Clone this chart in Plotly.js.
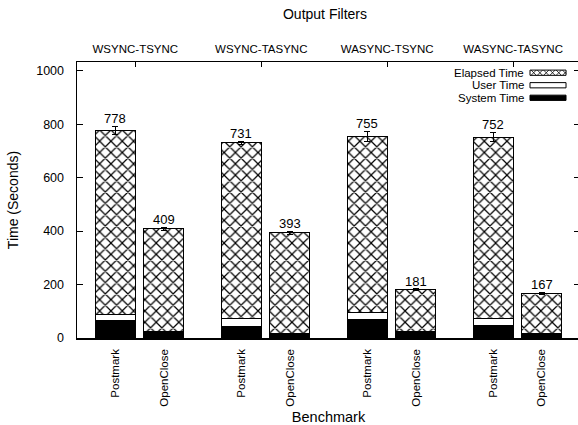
<!DOCTYPE html>
<html>
<head>
<meta charset="utf-8">
<script src="https://cdn.plot.ly/plotly-3.0.1.min.js"></script>
<style>
html,body{margin:0;padding:0;overflow:hidden;background:#fff;}
#chart{width:590px;height:425px;}
</style>
</head>
<body>
<div id="chart"></div>
<script>
// ---- data ----
const groups = ["WSYNC-TSYNC", "WSYNC-TASYNC", "WASYNC-TSYNC", "WASYNC-TASYNC"];
const benchmarks = ["Postmark", "OpenClose"];
// per group: [Postmark, OpenClose]
const elapsedTime = [[778, 409], [731, 393], [755, 181], [752, 167]];
const elapsedErr  = [[15, 6], [6, 6], [18, 4], [18, 4]];
const userTime    = [[25, 3], [29, 3], [24, 3], [28, 3]];
const systemTime  = [[64, 20], [44, 14], [70, 20], [45, 14]];

// ---- layout helpers (positions only) ----
const offsets = [0, 0.386];
const topTickOffset = 0.159;
const barWidth = 0.317;

const xs = [], sys = [], usr = [], rest = [], tot = [], err = [], tickText = [];
groups.forEach((g, gi) => {
  benchmarks.forEach((b, bi) => {
    xs.push(gi + offsets[bi]);
    sys.push(systemTime[gi][bi]);
    usr.push(userTime[gi][bi]);
    rest.push(elapsedTime[gi][bi] - systemTime[gi][bi] - userTime[gi][bi]);
    tot.push(elapsedTime[gi][bi]);
    err.push(elapsedErr[gi][bi]);
    tickText.push(b);
  });
});
const groupTicks = groups.map((g, gi) => gi + topTickOffset);

const FONT = "Liberation Sans, Arial, sans-serif";
const line = {color: "#000", width: 1};

const traces = [
  {type: "bar", name: "System Time", x: xs, y: sys, width: barWidth,
   marker: {color: "#000", line: line}, showlegend: false, hoverinfo: "skip"},
  {type: "bar", name: "User Time", x: xs, y: usr, width: barWidth,
   marker: {color: "#fff", line: line}, showlegend: false, hoverinfo: "skip"},
  {type: "bar", name: "Elapsed Time", x: xs, y: rest, width: barWidth,
   marker: {color: "#fff", line: line,
     pattern: {shape: "x", size: 8, solidity: 0.28, fgcolor: "#000", bgcolor: "#fff", fillmode: "replace"}},
   error_y: {type: "data", array: err, visible: true, color: "#000", thickness: 1, width: 3},
   showlegend: false, hoverinfo: "skip"},
  // invisible trace to activate the top axis
  {type: "scatter", x: groupTicks, y: groupTicks.map(() => 0), xaxis: "x2", mode: "markers",
   marker: {opacity: 0}, showlegend: false, hoverinfo: "skip"}
];

const annotations = xs.map((x, i) => ({
  x: x, y: tot[i] + err[i], xref: "x", yref: "y", text: String(tot[i]),
  showarrow: false, yanchor: "bottom", xanchor: "center", yshift: -2,
  font: {family: FONT, size: 13, color: "#000"}
}));

// custom legend (text, then swatch on its right)
const legendRows = ["Elapsed Time", "User Time", "System Time"];
const legY = [0.9612, 0.9158, 0.8704];
const legTextX = 0.8907, swX0 = 0.9006, swX1 = 0.9722, swH = 0.0095;
const shapes = [];
legendRows.forEach((t, i) => {
  annotations.push({x: legTextX, y: legY[i], xref: "paper", yref: "paper", text: t,
    showarrow: false, xanchor: "right", yanchor: "middle", borderpad: 0,
    font: {family: FONT, size: 11.5, color: "#000"}});
  shapes.push({type: "rect", xref: "paper", yref: "paper",
    x0: swX0, x1: swX1, y0: legY[i] - swH, y1: legY[i] + swH,
    fillcolor: i === 2 ? "#000" : "#fff", line: {color: "#000", width: 1}});
});
// hatch lines in the elapsed swatch
(function () {
  const y0 = legY[0] - swH, y1 = legY[0] + swH;
  const dx = (y1 - y0) * 275.4 / 503;
  let p = "";
  for (let x = swX0 - dx; x < swX1; x += dx * 1.2) {
    const a = Math.max(x, swX0), b = Math.min(x + dx, swX1);
    p += `M${a},${y0 + (a - x) / dx * (y1 - y0)} L${b},${y0 + (b - x) / dx * (y1 - y0)} `;
    p += `M${a},${y1 - (a - x) / dx * (y1 - y0)} L${b},${y1 - (b - x) / dx * (y1 - y0)} `;
  }
  shapes.push({type: "path", xref: "paper", yref: "paper", path: p, line: {color: "#000", width: 0.8}});
})();

const layout = {
  width: 590, height: 425,
  margin: {l: 77, r: 10, t: 62, b: 87.3},
  paper_bgcolor: "#fff", plot_bgcolor: "#fff",
  barmode: "stack",
  font: {family: FONT, size: 12, color: "#000"},
  title: {text: "Output Filters", x: 325 / 590, xanchor: "center", y: 1 - 14 / 425, yanchor: "middle",
          font: {family: FONT, size: 14, color: "#000"}},
  xaxis: {range: [-0.304, 3.69], tickmode: "array", tickvals: xs, ticktext: tickText,
          tickangle: -90, ticks: "", showgrid: false, zeroline: false,
          showline: true, linecolor: "#000", linewidth: 1.5, mirror: true,
          ticklabelstandoff: 5,
          tickfont: {family: FONT, size: 11.5, color: "#000"},
          title: {text: "Benchmark", standoff: 8, font: {family: FONT, size: 14.5, color: "#000"}}},
  xaxis2: {overlaying: "x", side: "top", range: [-0.304, 3.69], tickmode: "array",
           tickvals: groupTicks, ticktext: groups, ticks: "inside", ticklen: 5, tickcolor: "#000",
           showgrid: false, zeroline: false, showline: false, ticklabelstandoff: 6,
           tickfont: {family: FONT, size: 11.5, color: "#000"}},
  yaxis: {range: [0, 1032.6], tickmode: "array", tickvals: [0, 200, 400, 600, 800, 1000],
          ticks: "inside", ticklen: 6, tickcolor: "#000", showgrid: false, zeroline: false,
          showline: true, linecolor: "#000", linewidth: 1.5, mirror: "ticks",
          ticklabelstandoff: 9,
          tickfont: {family: FONT, size: 12.5, color: "#000"},
          title: {text: "Time (Seconds)", standoff: 14, font: {family: FONT, size: 14, color: "#000"}}},
  annotations: annotations,
  shapes: shapes
};

Plotly.newPlot("chart", traces, layout, {displayModeBar: false, staticPlot: true});
</script>
</body>
</html>
